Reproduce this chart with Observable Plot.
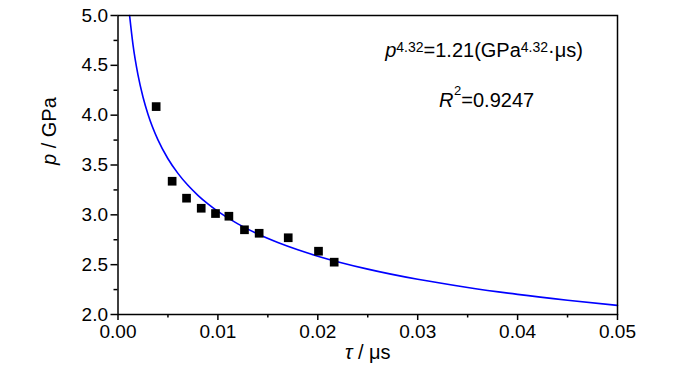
<!DOCTYPE html>
<html><head><meta charset="utf-8">
<script src="https://cdn.jsdelivr.net/npm/d3@7"></script>
<script src="https://cdn.jsdelivr.net/npm/@observablehq/plot@0.6"></script>
<style>
body{margin:0;background:#fff;}
svg{font-family:"Liberation Sans",Arial,sans-serif;}
</style>
</head><body>
<div id="chart"></div>
<script>
// measured points
const tau = [0.00382,0.00542,0.00686,0.00833,0.00976,0.0111,0.01266,0.01413,0.01704,0.02007,0.02164];
const pressure = [4.086,3.337,3.167,3.066,3.013,2.986,2.850,2.815,2.770,2.635,2.525];
// fitted curve
const curveTau = [0.00116,0.0015,0.002,0.0025,0.003,0.004,0.005,0.006,0.007,0.008,0.009,0.010,0.012,0.014,0.016,0.018,0.020,0.025,0.030,0.035,0.040,0.045,0.050];
const curveP = [5.0,4.708,4.404,4.183,4.010,3.752,3.563,3.416,3.296,3.196,3.110,3.035,2.909,2.807,2.722,2.649,2.585,2.455,2.353,2.271,2.202,2.143,2.091];
const xMajor = [0,0.01,0.02,0.03,0.04,0.05];
const xMinor = [0.005,0.015,0.025,0.035,0.045];
const yMajor = [2.0,2.5,3.0,3.5,4.0,4.5,5.0];
const yMinor = [2.25,2.75,3.25,3.75,4.25,4.75];

const pts = tau.map((t,i)=>({t, p: pressure[i]}));
const curve = curveTau.map((t,i)=>({t, p: curveP[i]}));
const notes = [
  {t:0.03664, p:4.643, id:"eq"},
  {t:0.0369, p:4.151, id:"r2"}
];

const FS = 19;
const plot = Plot.plot({
  width:700, height:374,
  marginLeft:117.5, marginRight:83, marginTop:15, marginBottom:60,
  style:{fontSize:FS+"px", fontFamily:'"Liberation Sans",Arial,sans-serif', color:"#000", background:"#fff"},
  x:{domain:[0,0.05]},
  y:{domain:[2,5]},
  marks:[
    Plot.line(curve,{x:"t", y:"p", stroke:"#0000ff", strokeWidth:1.6, curve:"monotone-x"}),
    Plot.dot(pts,{x:"t", y:"p", symbol:"square", r:4.9, fill:"#000", stroke:"none"}),
    Plot.frame({stroke:"#000", strokeWidth:1.5}),
    Plot.axisX({ticks:xMajor, tickSize:6, tickPadding:4, fontSize:FS, tickFormat:d3.format(".2f"), label:null, strokeWidth:1.5}),
    Plot.axisX({ticks:xMinor, tickSize:3.5, tickFormat:()=>"", label:null, strokeWidth:1.5}),
    Plot.axisY({ticks:yMajor, tickSize:7, tickPadding:3, fontSize:FS, tickFormat:d3.format(".1f"), label:null, strokeWidth:1.5}),
    Plot.axisY({ticks:yMinor, tickSize:4, tickFormat:()=>"", label:null, strokeWidth:1.5}),
    Plot.text(["ylabel"],{frameAnchor:"left", dx:-68, rotate:-90, text:d=>"p / GPa", fontSize:20, className:"ylab"}),
    Plot.text(["xlabel"],{frameAnchor:"bottom", dy:44, text:d=>"τ / μs", fontSize:20, className:"xlab"}),
    Plot.text(notes,{x:"t", y:"p", text:"id", fontSize:20, className:"note"})
  ]
});
document.getElementById("chart").appendChild(plot);

function rich(textEl, parts){
  const t = d3.select(textEl);
  t.text(null);
  for (const [s, opt] of parts){
    const sp = t.append("tspan").text(s);
    if (opt && opt.i) sp.attr("font-style","italic");
    if (opt && opt.sup) sp.attr("font-size", opt.fs || "14px").attr("baseline-shift", opt.bs || "super");
    if (opt && opt.dx) sp.attr("dx", opt.dx);
  }
}
const svg = d3.select(plot);
svg.selectAll(".ylab text").each(function(){ rich(this, [["p",{i:true}],[" / GPa"]]); });
svg.selectAll(".xlab text").each(function(){ rich(this, [["τ",{i:true}],[" / μs"]]); });
svg.selectAll(".note text").each(function(){
  const id = this.textContent;
  if (id === "eq") rich(this, [["p",{i:true}],["4.32",{sup:true,fs:"14px",bs:"38%"}],["=1.21(GPa"],["4.32",{sup:true,fs:"14px",bs:"38%"}],["·μs)"]]);
  else rich(this, [["R",{i:true}],["2",{sup:true,fs:"13px",bs:"90%",dx:"0.5"}],["=0.9247"]]);
});
</script>
</body></html>
